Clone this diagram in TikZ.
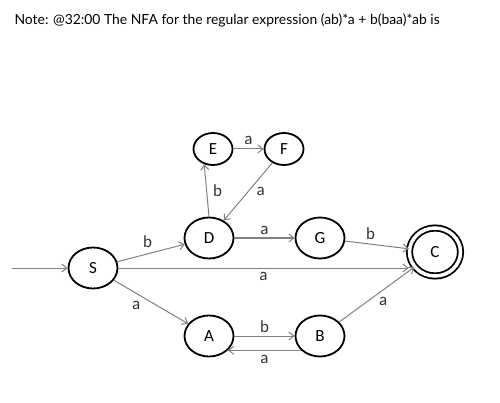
\documentclass[tikz,border=0pt]{standalone}
\usepackage{fontspec}
\setmainfont{Carlito}
\newfontfamily\notefont{Lato}
\usetikzlibrary{shapes,arrows.meta,positioning}

\begin{document}
\begin{tikzpicture}[x=1pt, y=-1pt, >={Straight Barb[length=5pt, width=8pt]},
  st/.style={draw, ellipse, line width=1.8pt, inner sep=0pt, minimum width=49pt, minimum height=41pt, font=\fontsize{17}{19}\selectfont},
  sst/.style={st, minimum width=39pt, minimum height=32pt},
  fst/.style={st, double, double distance=3.5pt, minimum width=51pt, minimum height=48pt},
  tr/.style={->, black!50, line width=1pt},
  lbl/.style={text=black!80, font=\fontsize{17}{19}\selectfont, inner sep=2pt}]
  \useasboundingbox (0,0) rectangle (500,403);
  \node [anchor=base west, font=\notefont\fontsize{13.9}{16}\selectfont] (title) at (11,25) {Note: @32:00 The NFA for the regular expression (ab)*a + b(baa)*ab is};

  \node [st] (s) at (93,268) {S};
  \node [st] (d) at (209,238) {D};
  \node [st] (a) at (209,336) {A};
  \node [sst] (e) at (213,149) {E};
  \node [sst] (f) at (284,149) {F};
  \node [st] (g) at (320,238) {G};
  \node [st] (b) at (320,336) {B};
  \node [fst] (c) at (435,252) {C};
  \coordinate (start) at (12,268);

  \draw [tr] (start) -- (s);
  \draw [tr] (s) -- (d) node[lbl, pos=0.45, above=4pt] {b};
  \draw [tr] (s) -- (s -| c.west) node[lbl, midway, below=2pt] {a};
  \draw [tr] (s) -- (a) node[lbl, pos=0.4, below left=1pt] {a};
  \draw [tr] (d.north) -- (e.-120) node[lbl, midway, right=4pt] {b};
  \draw [tr] (e) -- (f) node[lbl, midway, above=2pt] {a};
  \draw [tr] (f) -- (d) node[lbl, midway, right=6pt] {a};
  \draw [tr] (d) -- (g) node[lbl, midway, above=1pt] {a};
  \draw [tr] (g) -- (c) node[lbl, pos=0.4, above=2pt] {b};
  \draw [tr] (a.east) -- (b.west) node[lbl, midway, above=1pt] {b};
  \draw [tr] (b.217) -- (a.-37) node[lbl, midway, below=2pt] {a};
  \draw [tr] (b) -- (c) node[lbl, midway, below right=0pt] {a};
\end{tikzpicture}
\end{document}
